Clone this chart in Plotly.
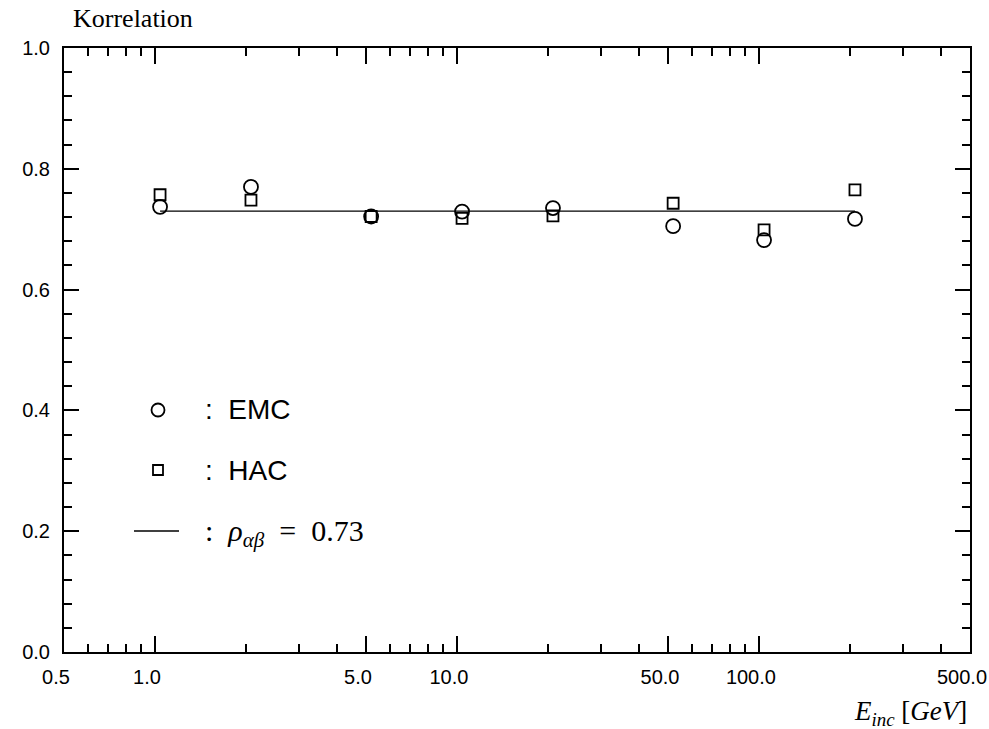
import plotly.graph_objects as go

# ---- data ----
energy = [1.04, 2.08, 5.2, 10.4, 20.8, 52.0, 104.0, 208.0]
emc = [0.737, 0.770, 0.721, 0.729, 0.735, 0.705, 0.682, 0.717]
hac = [0.757, 0.748, 0.721, 0.718, 0.722, 0.743, 0.699, 0.765]
rho = 0.73

x_major = [0.5, 1.0, 5.0, 10.0, 50.0, 100.0, 500.0]
x_major_text = ["0.5", "1.0", "5.0", "10.0", "50.0", "100.0", "500.0"]
x_minor = [0.6, 0.7, 0.8, 0.9, 2, 3, 4, 6, 7, 8, 9, 20, 30, 40, 60, 70, 80, 90,
           200, 300, 400]
y_major = [0.0, 0.2, 0.4, 0.6, 0.8, 1.0]
y_major_text = ["0.0", "0.2", "0.4", "0.6", "0.8", "1.0"]

fig = go.Figure()

fig.add_trace(go.Scatter(
    x=[energy[0], energy[-1]], y=[rho, rho], mode="lines",
    line=dict(color="black", width=1.3), showlegend=False, hoverinfo="skip"))
fig.add_trace(go.Scatter(
    x=energy, y=hac, mode="markers", name="HAC",
    marker=dict(symbol="square-open", size=11, color="black",
                line=dict(width=1.8, color="black")), showlegend=False))
fig.add_trace(go.Scatter(
    x=energy, y=emc, mode="markers", name="EMC",
    marker=dict(symbol="circle-open", size=14, color="black",
                line=dict(width=1.8, color="black")), showlegend=False))

tickfont = dict(family="Liberation Sans, Arial, sans-serif", size=20, color="black")

fig.update_xaxes(
    type="log", range=[-0.30103, 2.69897], automargin=False,
    tickmode="array", tickvals=x_major, ticktext=x_major_text,
    ticks="inside", ticklen=16, tickwidth=2, tickcolor="black",
    minor=dict(tickmode="array", tickvals=x_minor, ticks="inside", ticklen=8,
               tickwidth=2, tickcolor="black", showgrid=False),
    showline=True, linecolor="black", linewidth=2, mirror="allticks",
    showgrid=False, zeroline=False, tickfont=tickfont, ticklabelshift=-8,
    ticklabelstandoff=6,
)
fig.update_yaxes(
    range=[0, 1.0], automargin=False,
    tickmode="array", tickvals=y_major, ticktext=y_major_text,
    ticks="inside", ticklen=15, tickwidth=2, tickcolor="black",
    minor=dict(dtick=0.04, tick0=0, ticks="inside", ticklen=8, tickwidth=2,
               tickcolor="black", showgrid=False),
    showline=True, linecolor="black", linewidth=2, mirror="allticks",
    showgrid=False, zeroline=False, tickfont=tickfont, ticklabelstandoff=8,
)

# legend drawn inside the plot (paper coordinates)
W, H = 906.0, 604.0
def px(xp):
    return (xp - 64) / W
def py(yp):
    return (652 - yp) / H

shapes = [
    dict(type="circle", xref="paper", yref="paper",
         x0=px(151.5), x1=px(164.5), y0=py(416.5), y1=py(403.5),
         line=dict(color="black", width=1.8)),
    dict(type="rect", xref="paper", yref="paper",
         x0=px(153), x1=px(163), y0=py(475), y1=py(465),
         line=dict(color="black", width=1.8)),
    dict(type="line", xref="paper", yref="paper",
         x0=px(134), x1=px(179), y0=py(531), y1=py(531),
         line=dict(color="black", width=1.3)),
]

sans = "Liberation Sans, Arial, sans-serif"
serif = "Liberation Serif, DejaVu Serif, serif"
annotations = [
    dict(text=":  EMC", xref="paper", yref="paper", x=px(203), y=py(409),
         xanchor="left", yanchor="middle", showarrow=False,
         font=dict(family=sans, size=28, color="black")),
    dict(text=":  HAC", xref="paper", yref="paper", x=px(203), y=py(470),
         xanchor="left", yanchor="middle", showarrow=False,
         font=dict(family=sans, size=28, color="black")),
    dict(text=":  <i>ρ</i><sub><i>αβ</i></sub>  =  0.73", xref="paper", yref="paper",
         x=px(203), y=py(533), xanchor="left", yanchor="middle", showarrow=False,
         font=dict(family=serif, size=30, color="black")),
    dict(text="Korrelation", xref="paper", yref="paper", x=px(71), y=py(18),
         xanchor="left", yanchor="middle", showarrow=False,
         font=dict(family=serif, size=26, color="black")),
    dict(text="<i>E</i><sub><i>inc</i></sub> [<i>GeV</i>]", xref="paper", yref="paper",
         x=px(969), y=py(713), xanchor="right", yanchor="middle", showarrow=False,
         font=dict(family=serif, size=27, color="black")),
]

fig.update_layout(
    width=989, height=729,
    margin=dict(l=64, r=19, t=48, b=77),
    plot_bgcolor="white", paper_bgcolor="white",
    shapes=shapes, annotations=annotations, showlegend=False,
)

fig.write_html("out.html")
